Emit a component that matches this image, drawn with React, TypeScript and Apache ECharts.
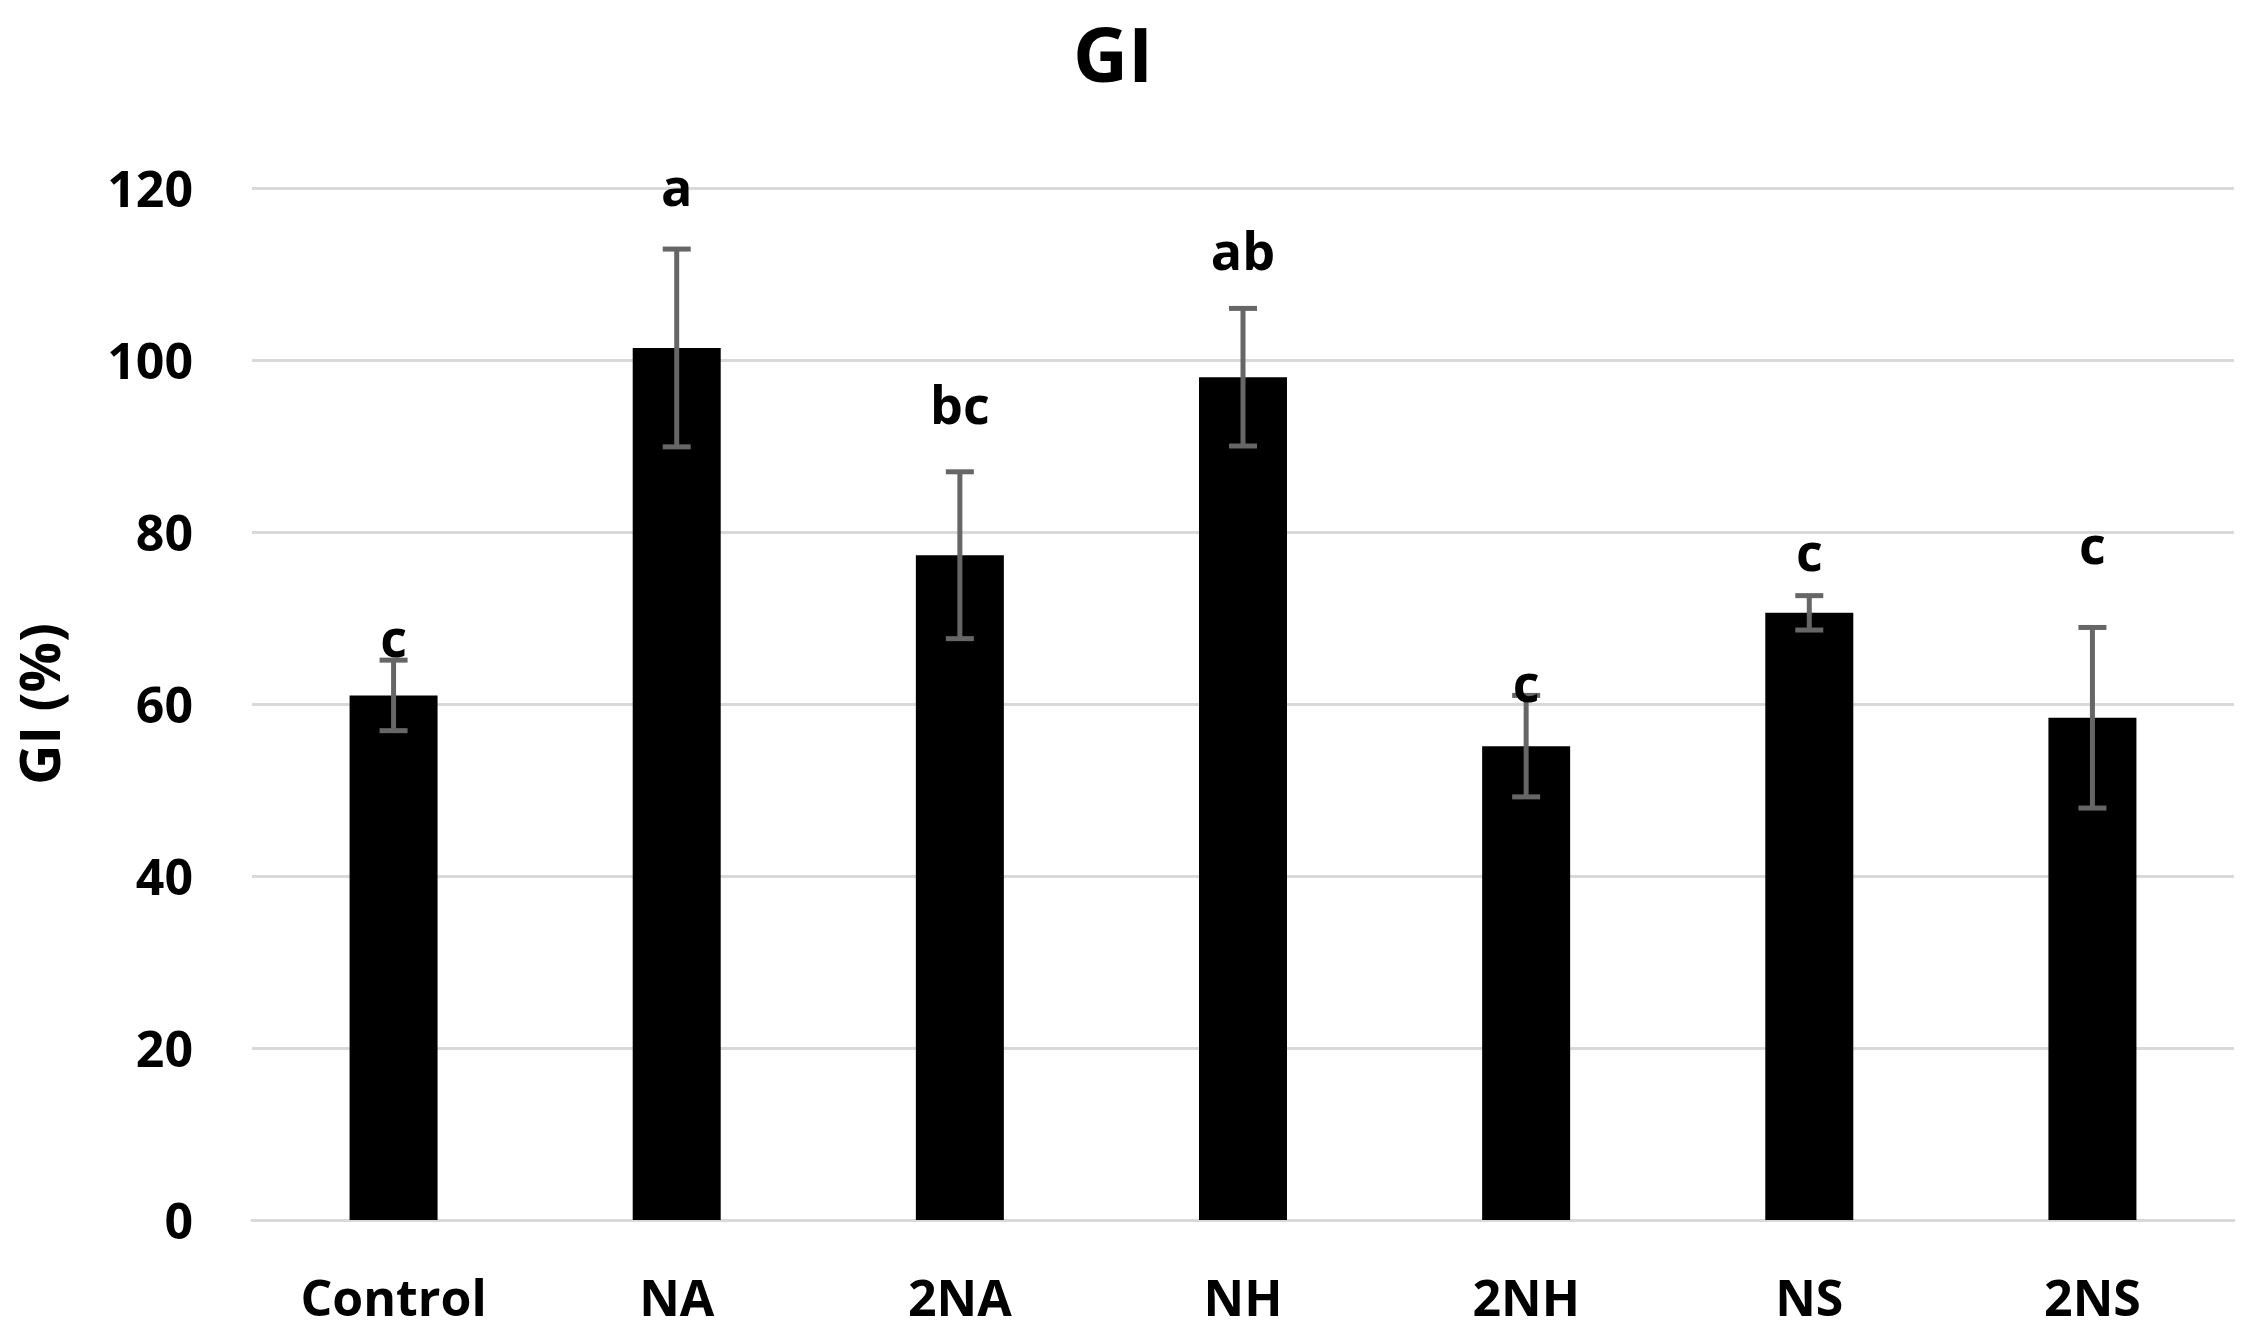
import React, { useEffect, useRef } from "react";
import * as echarts from "echarts";

const categories = ["Control", "NA", "2NA", "NH", "2NH", "NS", "2NS"];
const meanValues = [61.0, 101.4, 77.3, 98.0, 55.1, 70.6, 58.4];
const errorValues = [4.1, 11.5, 9.7, 8.0, 5.9, 2.0, 10.5];
const letterLabels = ["c", "a", "bc", "ab", "c", "c", "c"];
const letterHeights = [67.8, 120.3, 95.0, 112.8, 62.6, 77.8, 78.7];
const yTicks = [0, 20, 40, 60, 80, 100, 120];

const FONT = "'Open Sans', 'DejaVu Sans', sans-serif";

export default function App() {
  const ref = useRef<HTMLDivElement>(null);

  useEffect(() => {
    if (!ref.current) return;
    const chart = echarts.init(ref.current, null, { renderer: "svg" });

    const errorData = categories.map((_, i) => [
      i,
      meanValues[i] - errorValues[i],
      meanValues[i] + errorValues[i],
    ]);
    const letterData = categories.map((_, i) => [i, letterHeights[i], letterLabels[i]]);

    chart.setOption({
      animation: false,
      backgroundColor: "#ffffff",
      title: {
        text: "GI",
        left: 1113,
        top: 12,
        padding: 0,
        textAlign: "center",
        textStyle: {
          fontFamily: FONT,
          fontWeight: "bold",
          fontSize: 76,
          lineHeight: 80,
          color: "#000000",
        },
      },
      grid: { left: 252, right: 32, top: 188, bottom: 118, containLabel: false },
      xAxis: {
        type: "category",
        data: categories,
        axisTick: { show: false },
        axisLine: { show: true, lineStyle: { color: "#d9d9d9", width: 3 } },
        axisLabel: {
          margin: 52,
          fontFamily: FONT,
          fontWeight: "bold",
          fontSize: 50,
          color: "#000000",
        },
      },
      yAxis: {
        type: "value",
        min: yTicks[0],
        max: yTicks[yTicks.length - 1],
        interval: yTicks[1] - yTicks[0],
        name: "GI (%)",
        nameLocation: "middle",
        nameGap: 186,
        nameTextStyle: {
          fontFamily: FONT,
          fontWeight: "bold",
          fontSize: 56,
          color: "#000000",
        },
        axisLine: { show: false },
        axisTick: { show: false },
        axisLabel: {
          margin: 59,
          fontFamily: FONT,
          fontWeight: "bold",
          fontSize: 50,
          color: "#000000",
        },
        splitLine: { show: true, lineStyle: { color: "#d9d9d9", width: 3 } },
      },
      series: [
        {
          type: "bar",
          data: meanValues,
          barWidth: 88,
          itemStyle: { color: "#000000" },
          z: 2,
        },
        {
          type: "custom",
          data: errorData,
          z: 3,
          renderItem: (params: any, api: any) => {
            const x = api.value(0);
            const low = api.coord([x, api.value(1)]);
            const high = api.coord([x, api.value(2)]);
            const half = 14;
            const style = { stroke: "#666666", lineWidth: 5 };
            return {
              type: "group",
              children: [
                { type: "line", shape: { x1: high[0], y1: high[1], x2: low[0], y2: low[1] }, style },
                { type: "line", shape: { x1: high[0] - half, y1: high[1], x2: high[0] + half, y2: high[1] }, style },
                { type: "line", shape: { x1: low[0] - half, y1: low[1], x2: low[0] + half, y2: low[1] }, style },
              ],
            };
          },
        },
        {
          type: "custom",
          data: letterData,
          z: 4,
          renderItem: (params: any, api: any) => {
            const p = api.coord([api.value(0), api.value(1)]);
            return {
              type: "text",
              x: p[0],
              y: p[1],
              style: {
                text: letterLabels[params.dataIndex],
                fontFamily: FONT,
                fontWeight: "bold",
                fontSize: 52,
                fill: "#000000",
                align: "center",
                verticalAlign: "middle",
              },
            };
          },
        },
      ],
    });

    return () => chart.dispose();
  }, []);

  return (
    <div
      ref={ref}
      style={{ position: "absolute", left: 0, top: 0, width: 2266, height: 1338 }}
    />
  );
}
